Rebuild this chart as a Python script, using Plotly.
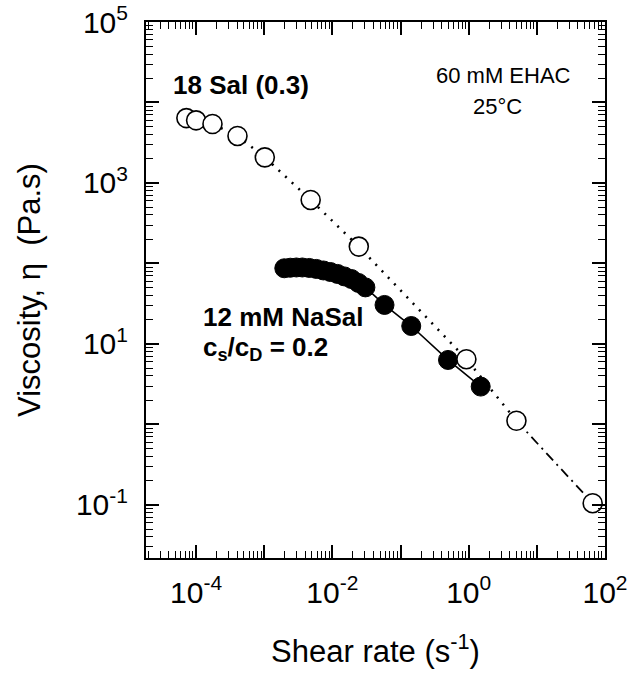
import plotly.graph_objects as go

# ---- data ----
sal18_rate = [7.2e-5, 1.0e-4, 1.74e-4, 4.05e-4, 1.02e-3, 4.8e-3, 0.0244, 0.925, 5.02, 65.9]
sal18_visc = [6400, 6000, 5400, 3840, 2080, 615, 162, 6.46, 1.11, 0.105]

nasal_rate = [1.97e-3, 2.41e-3, 2.96e-3, 3.62e-3, 4.59e-3, 5.82e-3, 7.38e-3, 9.35e-3,
              0.01186, 0.0150, 0.0190, 0.0241, 0.0305, 0.0582, 0.1435, 0.497, 1.50]
nasal_visc = [87.1, 88.5, 89.1, 89.1, 87.9, 85.5, 81.8, 78.3,
              74.1, 69.0, 64.1, 57.3, 50.4, 30.5, 16.7, 6.32, 2.95]

x_major = [1e-4, 1e-3, 1e-2, 1e-1, 1e0, 1e1, 1e2]
x_major_text = ["10<sup>-4</sup>", "", "10<sup>-2</sup>", "", "10<sup>0</sup>", "", "10<sup>2</sup>"]
y_major = [1e-1, 1e0, 1e1, 1e2, 1e3, 1e4, 1e5]
y_major_text = ["10<sup>-1</sup>", "", "10<sup>1</sup>", "", "10<sup>3</sup>", "", "10<sup>5</sup>"]

minor_vals = [k * 10.0 ** d for d in range(-6, 6) for k in range(2, 10)]

FONT = "Liberation Sans, Arial, Helvetica, sans-serif"

fig = go.Figure()

# 18 Sal: dotted through most points, dash-dot for the last segment
fig.add_trace(go.Scatter(
    x=sal18_rate[:9], y=sal18_visc[:9], mode="lines",
    line=dict(color="black", width=2.5, dash="2px,7px"), hoverinfo="skip", showlegend=False))
fig.add_trace(go.Scatter(
    x=sal18_rate[8:], y=sal18_visc[8:], mode="lines",
    line=dict(color="black", width=1.8, dash="10px,5px,2px,5px"), hoverinfo="skip", showlegend=False))

# NaSal solid line + filled markers
fig.add_trace(go.Scatter(
    x=nasal_rate, y=nasal_visc, mode="lines+markers",
    line=dict(color="black", width=1.6),
    marker=dict(symbol="circle", size=19, color="black", line=dict(color="black", width=1)),
    name="12 mM NaSal", showlegend=False))

# 18 Sal open markers
fig.add_trace(go.Scatter(
    x=sal18_rate, y=sal18_visc, mode="markers",
    marker=dict(symbol="circle", size=19, color="white", line=dict(color="black", width=1.6)),
    name="18 Sal (0.3)", showlegend=False))

axis_common = dict(
    type="log", showgrid=False, zeroline=False, automargin=False,
    showline=True, linecolor="black", linewidth=2, mirror="ticks",
    ticks="inside", ticklen=13, tickwidth=1.6, tickcolor="black",
    ticklabeloverflow="allow",
    tickfont=dict(family=FONT, size=30, color="black"),
    minor=dict(tickmode="array", tickvals=minor_vals, ticks="inside", ticklen=7,
               tickwidth=1.2, tickcolor="black", showgrid=False),
)

fig.update_xaxes(
    range=[-4.735, 2.0], tickmode="array", tickvals=x_major, ticktext=x_major_text,
    ticklabelstandoff=7,
    title=dict(text="Shear rate (s<sup>-1</sup>)", font=dict(family=FONT, size=31, color="black"), standoff=32),
    **axis_common)
fig.update_yaxes(
    range=[-1.66, 5.0], tickmode="array", tickvals=y_major, ticktext=y_major_text,
    ticklabelstandoff=10,
    title=dict(text="Viscosity, η  (Pa.s)", font=dict(family=FONT, size=31, color="black"), standoff=26),
    **axis_common)

fig.add_annotation(xref="paper", yref="paper", x=0.054, y=0.882, xanchor="left", yanchor="middle",
                   text="<b>18 Sal (0.3)</b>", showarrow=False,
                   font=dict(family=FONT, size=26, color="black"))
fig.add_annotation(xref="paper", yref="paper", x=0.778, y=0.901, xanchor="center", yanchor="middle",
                   text="60 mM EHAC", showarrow=False,
                   font=dict(family=FONT, size=22, color="black"))
fig.add_annotation(xref="paper", yref="paper", x=0.765, y=0.843, xanchor="center", yanchor="middle",
                   text="25°C", showarrow=False,
                   font=dict(family=FONT, size=22, color="black"))
fig.add_annotation(xref="paper", yref="paper", x=0.12, y=0.449, xanchor="left", yanchor="middle",
                   text="<b>12 mM NaSal</b>", showarrow=False,
                   font=dict(family=FONT, size=26, color="black"))
fig.add_annotation(xref="paper", yref="paper", x=0.12, y=0.390, xanchor="left", yanchor="middle",
                   text="<b>c<sub>s</sub>/c<sub>D</sub> = 0.2</b>", showarrow=False,
                   font=dict(family=FONT, size=26, color="black"))

fig.update_layout(
    width=633, height=673,
    margin=dict(l=146, r=28, t=22, b=115),
    paper_bgcolor="white", plot_bgcolor="white",
    font=dict(family=FONT, color="black"),
)

# remove the browser's default 8px body margin so the figure fills the window
fig.write_html("out.html", config={"displayModeBar": False},
               post_script="document.body.style.margin='0';")
